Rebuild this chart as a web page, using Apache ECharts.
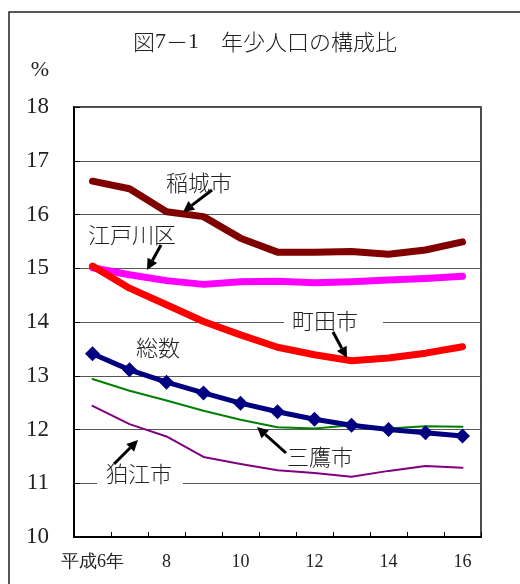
<!DOCTYPE html>
<html>
<head>
<meta charset="utf-8">
<script src="https://cdn.jsdelivr.net/npm/echarts@6/dist/echarts.min.js"></script>
<style>
  html, body { margin: 0; padding: 0; background: #fff; }
  #chart { width: 520px; height: 584px; }
</style>
</head>
<body>
<div id="chart"></div>
<script>
// 年少人口の構成比（％）平成6年〜16年
const years = ['平成6年', '7', '8', '9', '10', '11', '12', '13', '14', '15', '16'];
const inagi    = [16.62, 16.48, 16.05, 15.96, 15.56, 15.30, 15.30, 15.31, 15.26, 15.34, 15.49];
const edogawa  = [15.01, 14.88, 14.77, 14.70, 14.75, 14.76, 14.73, 14.75, 14.78, 14.81, 14.85];
const machida  = [15.04, 14.63, 14.32, 14.01, 13.76, 13.53, 13.39, 13.28, 13.33, 13.42, 13.54];
const total    = [13.41, 13.11, 12.88, 12.68, 12.49, 12.33, 12.19, 12.08, 12.00, 11.94, 11.88];
const mitaka   = [12.94, 12.72, 12.54, 12.35, 12.18, 12.04, 12.02, 12.08, 12.02, 12.06, 12.05];
const komae    = [12.44, 12.10, 11.87, 11.49, 11.36, 11.24, 11.19, 11.12, 11.23, 11.32, 11.29];

const SERIF = 'Liberation Serif';
const CJK = "'Noto Sans CJK JP', sans-serif";
const TEXT_COLOR = '#222';

function arrow(x1, y1, x2, y2) {
  const dx = x2 - x1, dy = y2 - y1;
  const L = Math.hypot(dx, dy);
  const ux = dx / L, uy = dy / L;
  const hl = 11, hw = 5.5;
  const bx = x2 - ux * hl, by = y2 - uy * hl;
  return [
    { type: 'line', z: 20, shape: { x1: x1, y1: y1, x2: bx, y2: by },
      style: { stroke: '#000', lineWidth: 3 } },
    { type: 'polygon', z: 20,
      shape: { points: [[x2, y2], [bx - uy * hw, by + ux * hw], [bx + uy * hw, by - ux * hw]] },
      style: { fill: '#000' } }
  ];
}

function label(text, x, y) {
  return { type: 'text', z: 21, x: x, y: y,
    style: { text: text, fontSize: 22, fontWeight: 300, fontFamily: CJK, fill: TEXT_COLOR,
             align: 'center', verticalAlign: 'middle' } };
}

function whiteBox(x, y, w, h) {
  return { type: 'rect', z: 19, shape: { x: x, y: y, width: w, height: h },
    style: { fill: '#fff' } };
}

function lineSeries(name, data, color, width) {
  return {
    name: name, type: 'line', data: data, symbol: 'none',
    lineStyle: { color: color, width: width, cap: 'round', join: 'round' },
    itemStyle: { color: color }
  };
}

const chart = echarts.init(document.getElementById('chart'), null, { renderer: 'canvas' });

// title parts: serif figures, CJK text
const titleParts = {
  type: 'text', z: 21, x: 265, y: 42,
  style: {
    text: '{c|図}{d|7}{c|－}{d|1}{c|　年少人口の構成比}',
    align: 'center', verticalAlign: 'middle', fill: TEXT_COLOR,
    rich: {
      c: { fontSize: 22, fontWeight: 300, fontFamily: CJK, fill: TEXT_COLOR },
      d: { fontSize: 22, fontFamily: SERIF, fill: TEXT_COLOR }
    }
  }
};

const graphics = [
  // outer frame
  { type: 'rect', z: 1, shape: { x: 9, y: 12, width: 600, height: 700 },
    style: { fill: 'none', stroke: '#222', lineWidth: 1.5 } },
  titleParts,
  { type: 'text', z: 21, x: 40, y: 70,
    style: { text: '%', fontSize: 22, fontFamily: SERIF, fill: TEXT_COLOR,
             align: 'center', verticalAlign: 'middle' } },
  whiteBox(284, 311, 99, 21),
  whiteBox(97, 464, 86, 20),
  label('稲城市', 199, 183),
  label('江戸川区', 132, 235),
  label('町田市', 325, 321),
  label('総数', 158, 348),
  label('三鷹市', 320, 457),
  label('狛江市', 139, 474)
]
  .concat(arrow(212, 190, 183, 212))
  .concat(arrow(161, 245, 147, 270))
  .concat(arrow(333, 332, 347, 358))
  .concat(arrow(286, 453, 257, 427))
  .concat(arrow(114, 464, 138, 440));

chart.setOption({
  animation: false,
  backgroundColor: '#fff',
  grid: { left: 74, top: 107, right: 39, bottom: 47, show: true,
          borderColor: '#111', borderWidth: 1.5, backgroundColor: 'transparent' },
  xAxis: {
    type: 'category', data: years, boundaryGap: true,
    axisLine: { lineStyle: { color: '#000', width: 2 } },
    axisTick: { show: true, inside: true, length: 5, interval: 0, lineStyle: { color: '#000', width: 1 } },
    axisLabel: { interval: 1, margin: 16, fontSize: 18, color: TEXT_COLOR, fontFamily: SERIF },
    splitLine: { show: false }
  },
  yAxis: {
    type: 'value', min: 10, max: 18, interval: 1,
    axisLine: { show: true, lineStyle: { color: '#000', width: 2 } },
    axisTick: { show: true, inside: true, length: 6, lineStyle: { color: '#000', width: 1 } },
    axisLabel: { margin: 25, fontSize: 23, color: TEXT_COLOR, fontFamily: SERIF },
    splitLine: { show: true, lineStyle: { color: '#555', width: 1 } }
  },
  series: [
    lineSeries('三鷹市', mitaka, '#008000', 2),
    lineSeries('狛江市', komae, '#800080', 2),
    lineSeries('江戸川区', edogawa, '#FF00FF', 7),
    lineSeries('稲城市', inagi, '#800000', 7),
    lineSeries('町田市', machida, '#FF0000', 7),
    {
      name: '総数', type: 'line', data: total,
      symbol: 'diamond', symbolSize: [15, 15],
      lineStyle: { color: '#000080', width: 5, join: 'round' },
      itemStyle: { color: '#000080' }
    }
  ],
  graphic: graphics
});
</script>
</body>
</html>
